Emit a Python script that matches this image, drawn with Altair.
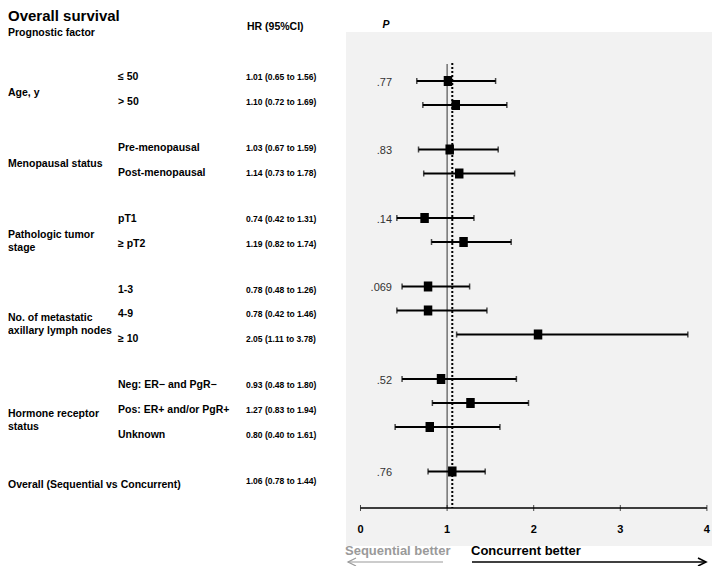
import altair as alt
import pandas as pd

# ---------------- data ----------------
title_text = "Overall survival"
header_factor = "Prognostic factor"
header_hr = "HR (95%CI)"
header_p = "P"

group_labels = [
    "Age, y",
    "Menopausal status",
    "Pathologic tumor\nstage",
    "No. of metastatic\naxillary lymph nodes",
    "Hormone receptor\nstatus",
    "Overall (Sequential vs Concurrent)",
]
group_p = [".77", ".83", ".14", ".069", ".52", ".76"]

subgroups = ["≤ 50", "> 50", "Pre-menopausal", "Post-menopausal", "pT1", "≥ pT2",
             "1-3", "4-9", "≥ 10", "Neg: ER− and PgR−", "Pos: ER+ and/or PgR+",
             "Unknown", ""]
row_group = [0, 0, 1, 1, 2, 2, 3, 3, 3, 4, 4, 4, 5]
hr = [1.01, 1.10, 1.03, 1.14, 0.74, 1.19, 0.78, 0.78, 2.05, 0.93, 1.27, 0.80, 1.06]
ci_low = [0.65, 0.72, 0.67, 0.73, 0.42, 0.82, 0.48, 0.42, 1.11, 0.48, 0.83, 0.40, 0.78]
ci_high = [1.56, 1.69, 1.59, 1.78, 1.31, 1.74, 1.26, 1.46, 3.78, 1.80, 1.94, 1.61, 1.44]

axis_ticks = [0, 1, 2, 3, 4]
null_hr = 1.0
favour_left = "Sequential better"
favour_right = "Concurrent better"

# ---------------- tables ----------------
GAP = 0.854  # extra row slots between groups
pos = [i + GAP * g for i, g in enumerate(row_group)]

rows = pd.DataFrame({
    "sub": subgroups,
    "grp": row_group,
    "hr": hr,
    "lo": ci_low,
    "hi": ci_high,
    "pos": pos,
    "hrtext": [f"{h:.2f} ({l:.2f} to {u:.2f})" for h, l, u in zip(hr, ci_low, ci_high)],
})

grp_mid = rows.groupby("grp")["pos"].mean().tolist()
grp_first = rows.groupby("grp")["pos"].min().tolist()
groups = pd.DataFrame({"label": group_labels, "p": group_p,
                       "mid": grp_mid, "first": grp_first})

ticks = pd.DataFrame({"t": axis_ticks, "lab": [str(t) for t in axis_ticks]})
lines = pd.DataFrame({"v": [null_hr, hr[-1]], "kind": ["null", "overall"]})
axis_span = pd.DataFrame({"a": [min(axis_ticks)], "b": [max(axis_ticks)]})
one = pd.DataFrame({"k": [0]})

# ---------------- scales ----------------
XS = alt.Scale(domain=[-4.0704, 4.0589], nice=False, zero=False)
YP = alt.Scale(domain=[-3.0417, 20.2083], nice=False, zero=False, reverse=True)
YT = alt.Scale(domain=[-2.779, 19.694], nice=False, zero=False, reverse=True)

FONT = "Liberation Sans"

bg = alt.Chart(one).mark_rect(color="#f2f2f2").encode(
    x=alt.value(338), x2=alt.value(704), y=alt.value(24), y2=alt.value(538))

null_line = alt.Chart(lines[lines.kind == "null"]).mark_rule(
    color="#333333", strokeWidth=1).encode(
    x=alt.X("v:Q", scale=XS, axis=None), y=alt.value(56), y2=alt.value(500))
overall_line = alt.Chart(lines[lines.kind == "overall"]).mark_rule(
    color="black", strokeWidth=2, strokeDash=[2, 2]).encode(
    x=alt.X("v:Q", scale=XS, axis=None), y=alt.value(55), y2=alt.value(500))

ci = alt.Chart(rows).mark_rule(color="black", strokeWidth=2).encode(
    x=alt.X("lo:Q", scale=XS, axis=None), x2="hi:Q",
    y=alt.Y("pos:Q", scale=YP, axis=None))
cap_lo = alt.Chart(rows).mark_tick(color="black", orient="vertical", size=6, thickness=1.5).encode(
    x=alt.X("lo:Q", scale=XS, axis=None), y=alt.Y("pos:Q", scale=YP, axis=None))
cap_hi = alt.Chart(rows).mark_tick(color="black", orient="vertical", size=6, thickness=1.5).encode(
    x=alt.X("hi:Q", scale=XS, axis=None), y=alt.Y("pos:Q", scale=YP, axis=None))
squares = alt.Chart(rows).mark_point(
    shape="M -0.85 -1 L 0.85 -1 L 0.85 1 L -0.85 1 Z", filled=True, color="black",
    size=100, opacity=1).encode(
    x=alt.X("hr:Q", scale=XS, axis=None), y=alt.Y("pos:Q", scale=YP, axis=None))

p_text = alt.Chart(groups).mark_text(align="right", baseline="middle", font=FONT,
                                     fontSize=11, color="#333333", dy=2).encode(
    x=alt.value(384), y=alt.Y("first:Q", scale=YP, axis=None), text="p:N")

axis_line = alt.Chart(axis_span).mark_rule(color="black", strokeWidth=1.5).encode(
    x=alt.X("a:Q", scale=XS, axis=None), x2="b:Q", y=alt.value(500))
axis_ticks_m = alt.Chart(ticks).mark_tick(color="black", orient="vertical", size=6, thickness=1).encode(
    x=alt.X("t:Q", scale=XS, axis=None), y=alt.value(500))
axis_labels = alt.Chart(ticks).mark_text(
    font="Liberation Sans Narrow, Liberation Sans", fontWeight="bold", fontSize=11,
    baseline="middle", color="black").encode(
    x=alt.X("t:Q", scale=XS, axis=None), y=alt.value(522), text="lab:N")

sub_text = alt.Chart(rows).mark_text(align="left", baseline="middle", font=FONT,
                                     fontWeight="bold", fontSize=10.5, color="black").encode(
    x=alt.value(110), y=alt.Y("pos:Q", scale=YT, axis=None), text="sub:N")
hr_text = alt.Chart(rows).mark_text(align="left", baseline="middle", font=FONT,
                                    fontWeight="bold", fontSize=8.5, color="black").encode(
    x=alt.value(238), y=alt.Y("pos:Q", scale=YT, axis=None), text="hrtext:N")
grp_text = alt.Chart(groups).mark_text(align="left", baseline="middle", font=FONT,
                                       fontWeight="bold", fontSize=10.5, color="black",
                                       lineBreak="\n", lineHeight=13, dy=4).encode(
    x=alt.value(0), y=alt.Y("mid:Q", scale=YT, axis=None), text="label:N")

hdr = pd.DataFrame({"k": [0]})
title_m = alt.Chart(hdr).mark_text(text=title_text, align="left", baseline="middle", font=FONT,
                                   fontWeight="bold", fontSize=15, color="black").encode(
    x=alt.value(0), y=alt.value(8))
factor_m = alt.Chart(hdr).mark_text(text=header_factor, align="left", baseline="middle", font=FONT,
                                    fontWeight="bold", fontSize=10.5, color="black").encode(
    x=alt.value(0), y=alt.value(25))
hrh_m = alt.Chart(hdr).mark_text(text=header_hr, align="left", baseline="middle", font=FONT,
                                 fontWeight="bold", fontSize=10.5, color="black").encode(
    x=alt.value(239), y=alt.value(19))
ph_m = alt.Chart(hdr).mark_text(text=header_p, align="center", baseline="middle", font=FONT,
                                fontWeight="bold", fontStyle="italic", fontSize=10.5,
                                color="black").encode(
    x=alt.value(378), y=alt.value(17))

left_lab = alt.Chart(hdr).mark_text(text=favour_left, align="left", baseline="middle", font=FONT,
                                    fontWeight="bold", fontSize=13, color="#9a9a9a").encode(
    x=alt.value(337), y=alt.value(543))
right_lab = alt.Chart(hdr).mark_text(text=favour_right, align="left", baseline="middle", font=FONT,
                                     fontWeight="bold", fontSize=13, color="black").encode(
    x=alt.value(463), y=alt.value(543))
left_arrow = alt.Chart(hdr).mark_rule(color="#9a9a9a", strokeWidth=1.2).encode(
    x=alt.value(340), x2=alt.value(435), y=alt.value(554))
left_head = alt.Chart(hdr).mark_point(shape="M 1 -1 L -1 0 L 1 1", filled=False,
                                      color="#9a9a9a", strokeWidth=1.2, size=64, opacity=1).encode(
    x=alt.value(344), y=alt.value(554))
right_arrow = alt.Chart(hdr).mark_rule(color="black", strokeWidth=1.6).encode(
    x=alt.value(464), x2=alt.value(698), y=alt.value(554))
right_head = alt.Chart(hdr).mark_point(shape="M -1 -1 L 1 0 L -1 1", filled=False,
                                       color="black", strokeWidth=1.6, size=64, opacity=1).encode(
    x=alt.value(694), y=alt.value(554))

chart = alt.layer(
    bg, null_line, overall_line, ci, cap_lo, cap_hi, squares, p_text,
    axis_line, axis_ticks_m, axis_labels,
    sub_text, hr_text, grp_text,
    title_m, factor_m, hrh_m, ph_m,
    left_lab, right_lab, left_arrow, left_head, right_arrow, right_head,
).resolve_scale(y="independent").properties(
    width=704, height=558, padding=0,
    autosize=alt.AutoSizeParams(type="none"),
    background="white",
).configure_view(stroke=None)

chart.save("out.html", embed_options={"renderer": "svg", "actions": False})
